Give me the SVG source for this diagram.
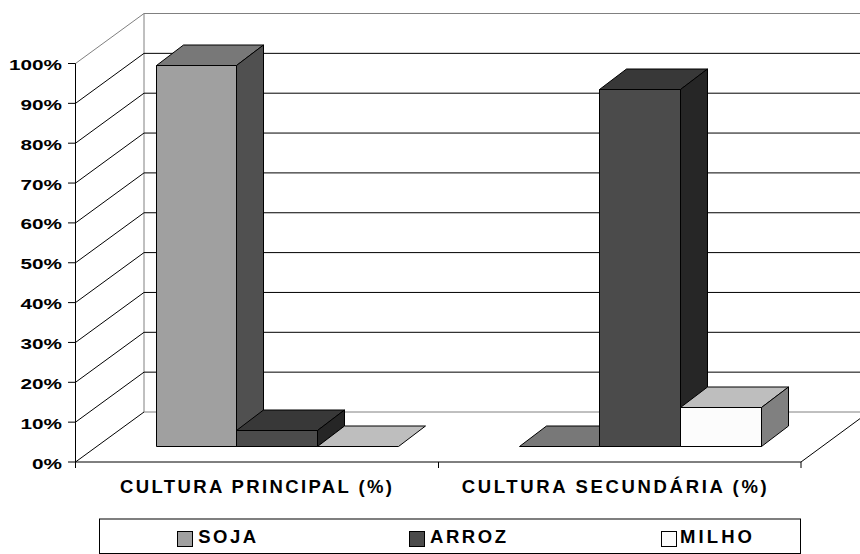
<svg xmlns="http://www.w3.org/2000/svg" width="860" height="554" viewBox="0 0 860 554">
<style>
.grid{stroke:#000;stroke-width:1;fill:none}
.wall{stroke:#808080;stroke-width:1;fill:none}
.ax{stroke:#000;stroke-width:1;fill:none}
.bar{stroke:#000;stroke-width:1;stroke-linejoin:round}
.ylab{font-family:"Liberation Sans",Arial,sans-serif;font-weight:bold;font-size:15px;fill:#000;text-anchor:end}
.clab{font-family:"Liberation Sans",Arial,sans-serif;font-weight:bold;font-size:18.5px;fill:#000}
.sojaF{fill:#A0A0A0}.sojaT{fill:#787878}.sojaS{fill:#505050}
.arrozF{fill:#4B4B4B}.arrozT{fill:#383838}.arrozS{fill:#262626}
.milhoF{fill:#FCFCFC}.milhoT{fill:#BEBEBE}.milhoS{fill:#808080}
</style>
<rect width="860" height="554" fill="#fff"/>
<g id="walls">
  <polyline class="wall" points="75.5,63.5 144,13.5 870,13.5"/>
  <line class="wall" x1="144" y1="13.5" x2="144" y2="412"/>
  <line class="wall" x1="144" y1="412" x2="870" y2="412"/>
  <g class="grid">
    <path d="M75.5,103.35 L144,53.35 H870 M75.5,143.2 L144,93.2 H870 M75.5,183.05 L144,133.05 H870 M75.5,222.9 L144,172.9 H870 M75.5,262.75 L144,212.75 H870 M75.5,302.6 L144,252.6 H870 M75.5,342.45 L144,292.45 H870 M75.5,382.3 L144,332.3 H870 M75.5,422.15 L144,372.15 H870 M75.5,462 L144,412"/>
  </g>
</g>
<g id="axes">
  <line class="ax" x1="75.5" y1="63.5" x2="75.5" y2="468"/>
  <path class="ax" d="M68,63.5H75.5M68,103.35H75.5M68,143.2H75.5M68,183.05H75.5M68,222.9H75.5M68,262.75H75.5M68,302.6H75.5M68,342.45H75.5M68,382.3H75.5M68,422.15H75.5M68,462H75.5"/>
  <polyline class="ax" points="75.5,462 801,462 869,412"/>
  <path class="ax" d="M438.5,462V468M801,462V468"/>
</g>
<g id="bars">
  <g id="cat1-soja" class="bar">
    <rect class="sojaF" x="156.5" y="65.5" width="80" height="381" stroke="#000"/>
    <polygon class="sojaT" points="156.5,65.5 183.5,45 263.5,45 236.5,65.5" stroke="#000"/>
    <polygon class="sojaS" points="236.5,65.5 263.5,45 263.5,426 236.5,446.5" stroke="#000"/>
  </g>
  <g id="cat1-arroz" class="bar">
    <rect class="arrozF" x="236.5" y="430.5" width="81" height="16" stroke="#000"/>
    <polygon class="arrozT" points="236.5,430.5 263.5,410 344.5,410 317.5,430.5" stroke="#000"/>
    <polygon class="arrozS" points="317.5,430.5 344.5,410 344.5,426 317.5,446.5" stroke="#000"/>
  </g>
  <g id="cat1-milho" class="bar">
    <polygon class="milhoT" points="317.5,446.5 344.5,426 425.5,426 398.5,446.5" stroke="#000"/>
  </g>
  <g id="cat2-soja" class="bar">
    <polygon class="sojaT" points="519.5,446.5 546.5,426 626.5,426 599.5,446.5" stroke="#000"/>
  </g>
  <g id="cat2-arroz" class="bar">
    <rect class="arrozF" x="599.5" y="89.5" width="81" height="357" stroke="#000"/>
    <polygon class="arrozT" points="599.5,89.5 626.5,69 707.5,69 680.5,89.5" stroke="#000"/>
    <polygon class="arrozS" points="680.5,89.5 707.5,69 707.5,426 680.5,446.5" stroke="#000"/>
  </g>
  <g id="cat2-milho" class="bar">
    <rect class="milhoF" x="680.5" y="407.5" width="81" height="39" stroke="#000"/>
    <polygon class="milhoT" points="680.5,407.5 707.5,387 788.5,387 761.5,407.5" stroke="#000"/>
    <polygon class="milhoS" points="761.5,407.5 788.5,387 788.5,426 761.5,446.5" stroke="#000"/>
  </g>
</g>
<g id="y-labels">
  <text class="ylab" x="62" y="70" textLength="53" lengthAdjust="spacingAndGlyphs">100%</text>
  <text class="ylab" x="62" y="109.85" textLength="41.5" lengthAdjust="spacingAndGlyphs">90%</text>
  <text class="ylab" x="62" y="149.7" textLength="41.5" lengthAdjust="spacingAndGlyphs">80%</text>
  <text class="ylab" x="62" y="189.55" textLength="41.5" lengthAdjust="spacingAndGlyphs">70%</text>
  <text class="ylab" x="62" y="229.4" textLength="41.5" lengthAdjust="spacingAndGlyphs">60%</text>
  <text class="ylab" x="62" y="269.25" textLength="41.5" lengthAdjust="spacingAndGlyphs">50%</text>
  <text class="ylab" x="62" y="309.1" textLength="41.5" lengthAdjust="spacingAndGlyphs">40%</text>
  <text class="ylab" x="62" y="348.95" textLength="41.5" lengthAdjust="spacingAndGlyphs">30%</text>
  <text class="ylab" x="62" y="388.8" textLength="41.5" lengthAdjust="spacingAndGlyphs">20%</text>
  <text class="ylab" x="62" y="428.65" textLength="41.5" lengthAdjust="spacingAndGlyphs">10%</text>
  <text class="ylab" x="62" y="468.5" textLength="30" lengthAdjust="spacingAndGlyphs">0%</text>
</g>
<g id="category-labels">
  <text class="clab" x="120" y="492.5" textLength="272">CULTURA PRINCIPAL (%)</text>
  <text class="clab" x="461.7" y="492.5" textLength="305">CULTURA SECUNDÁRIA (%)</text>
</g>
<g id="legend">
  <rect x="99.5" y="519" width="701" height="34.5" fill="#fff" stroke="#000" stroke-width="1"/>
  <g id="legend-soja">
    <rect class="sojaF" x="177.5" y="531.5" width="15" height="15" stroke="#000"/>
    <text class="clab" x="198.3" y="543.3" textLength="57.7">SOJA</text>
  </g>
  <g id="legend-arroz">
    <rect class="arrozF" x="409.5" y="531.5" width="15" height="15" stroke="#000"/>
    <text class="clab" x="430" y="543.3" textLength="76">ARROZ</text>
  </g>
  <g id="legend-milho">
    <rect class="milhoF" x="661.5" y="531.5" width="15" height="15" stroke="#000"/>
    <text class="clab" x="680" y="543.3" textLength="72">MILHO</text>
  </g>
</g>
</svg>
